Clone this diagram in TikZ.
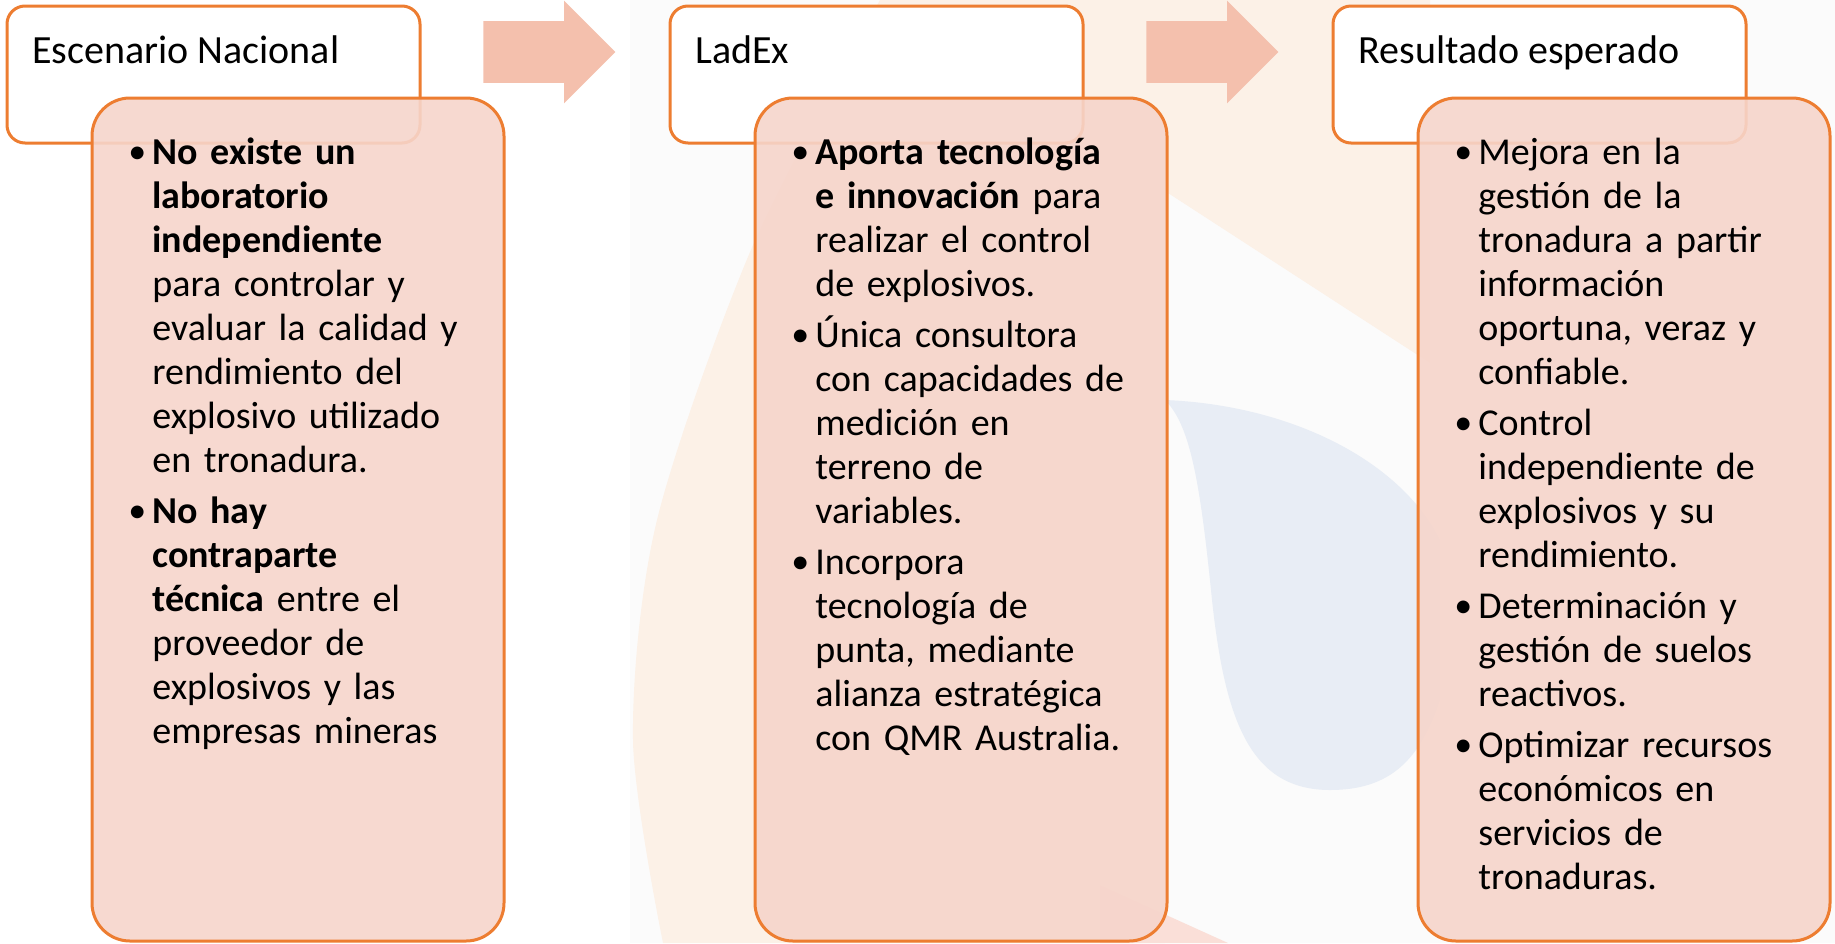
\documentclass[tikz,border=0pt]{standalone}
\usepackage{fontspec}
\setmainfont{Carlito}
\usepackage{xcolor}
\usepackage{tikz}
\usetikzlibrary{positioning, shapes.arrows}
\definecolor{accent}{HTML}{ED7D31}
\definecolor{panelfill}{HTML}{F6D5CB}
\definecolor{arrowfill}{HTML}{F4C0AD}
\definecolor{peach}{HTML}{FCF1E7}
\definecolor{bluewm}{HTML}{E8EDF5}
\definecolor{pinkwm}{HTML}{FADFD8}
\definecolor{graywm}{HTML}{FBFBFB}
\newcommand{\bul}{\par\hangindent=11pt\hangafter=1\noindent\strut\makebox[11pt][l]{\hspace{-1pt}\raisebox{0.4pt}{\fontsize{18}{18}\selectfont\textbullet}}}
\tikzset{
    header/.style = {rectangle, rounded corners = 9pt, draw = accent, line width = 1.5pt, fill = white, minimum width = 206.5pt, minimum height = 68.5pt, inner sep = 0pt},
    panel/.style = {rectangle, rounded corners = 19pt, draw = accent, line width = 1.5pt, fill = panelfill, fill opacity = 0.9, minimum width = 206pt, minimum height = 421.5pt, inner sep = 0pt},
    title/.style = {anchor = base west, inner sep = 0pt, font = \fontsize{20}{22}\selectfont},
    items/.style = {anchor = north west, inner sep = 0pt, text width = 190pt, font = \fontsize{19}{22}\selectfont, execute at begin node = {\setlength{\parskip}{3.5pt}\setlength{\parindent}{0pt}}},
    flow/.style = {single arrow, fill = arrowfill, draw = none, inner sep = 15.25pt, single arrow head extend = 10.25pt, minimum height = 66pt, anchor = tail}
}
\begin{document}
\begin{tikzpicture}[x = 0.5pt, y = -0.5pt]
    \useasboundingbox (0,0) rectangle (1835,943);
    \fill[graywm] (630,0) rectangle (1835,943);
    \fill[peach] plot[smooth] coordinates {(880,0) (753,245) (657,520) (633,740) (663,943)} -- (1165,943) -- (1168,193) -- (1430,363) -- (1430,0) -- cycle;
    \fill[pinkwm] (1100,885) -- (1228,943) -- (1100,943) -- cycle;
    \fill[bluewm] (1165,400) .. controls (1290,405) and (1400,460) .. (1440,540) -- (1440,700) .. controls (1420,760) and (1390,790) .. (1330,790) .. controls (1250,790) and (1225,720) .. (1212,600) .. controls (1200,480) and (1190,425) .. (1165,400) -- cycle;

    \node [header] (esc) at (213.5,74.5) {};
    \node [header] (ladex) at (876.5,74.5) {};
    \node [header] (res) at (1539.5,74.5) {};
    \node [title] (esc-t) at (32,63) {Escenario Nacional};
    \node [title] (ladex-t) at (695,63) {LadEx};
    \node [title] (res-t) at (1358,63) {Resultado esperado};

    \node [panel] (esc-p) at (298,519.5) {};
    \node [panel] (ladex-p) at (961,519.5) {};
    \node [panel] (res-p) at (1624,519.5) {};

    \node [flow] (a1) at (483,52) {};
    \node [flow] (a2) at (1146,52) {};

    \node [items] (esc-l) at (130,113) {%
        \bul\textbf{No existe un}\newline\textbf{laboratorio}\newline\textbf{independiente}\newline para controlar y\newline evaluar la calidad y\newline rendimiento del\newline explosivo utilizado\newline en tronadura.
        \bul\textbf{No hay}\newline\textbf{contraparte}\newline\textbf{técnica} entre el\newline proveedor de\newline explosivos y las\newline empresas mineras\par};
    \node [items] (ladex-l) at (793,113) {%
        \bul\textbf{Aporta tecnología}\newline\textbf{e innovación} para\newline realizar el control\newline de explosivos.
        \bul Única consultora\newline con capacidades de\newline medición en\newline terreno de\newline variables.
        \bul Incorpora\newline tecnología de\newline punta, mediante\newline alianza estratégica\newline con QMR Australia.\par};
    \node [items] (res-l) at (1456,113) {%
        \bul Mejora en la\newline gestión de la\newline tronadura a partir\newline información\newline oportuna, veraz y\newline confiable.
        \bul Control\newline independiente de\newline explosivos y su\newline rendimiento.
        \bul Determinación y\newline gestión de suelos\newline reactivos.
        \bul Optimizar recursos\newline económicos en\newline servicios de\newline tronaduras.\par};
\end{tikzpicture}
\end{document}
